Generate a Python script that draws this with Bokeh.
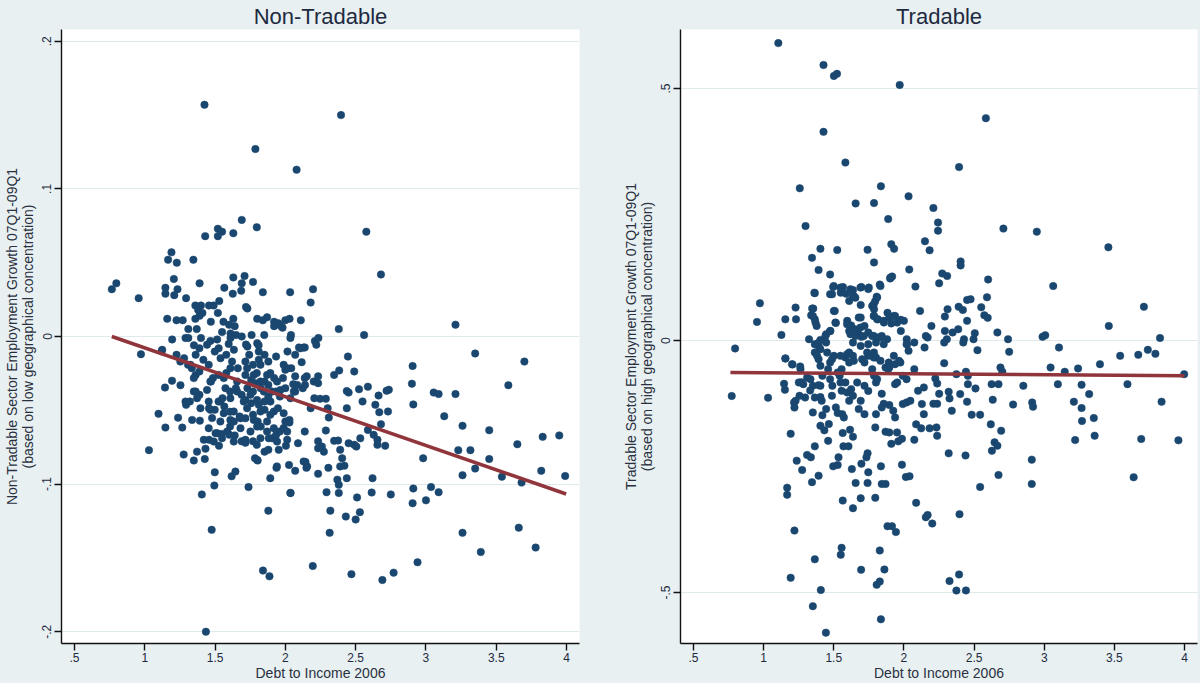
from bokeh.plotting import figure
from bokeh.layouts import row
from bokeh.models import Range1d, FixedTicker
from bokeh.embed import file_html
from bokeh.resources import INLINE

# ---------------- data ----------------
x_ticks = [0.5, 1, 1.5, 2, 2.5, 3, 3.5, 4]
x_tick_labels = [".5", "1", "1.5", "2", "2.5", "3", "3.5", "4"]

nt_y_ticks = [-0.2, -0.1, 0, 0.1, 0.2]
nt_y_tick_labels = ["-.2", "-.1", "0", ".1", ".2"]
t_y_ticks = [-0.5, 0, 0.5]
t_y_tick_labels = ["-.5", "0", ".5"]

# Non-tradable panel: (debt to income, employment growth)
nt_points = [
    (1.425, 0.157), (2.396, 0.150), (1.787, 0.127), (2.08, 0.113), (1.69, 0.079),
    (1.797, 0.074), (1.52, 0.073), (1.55, 0.071), (1.43, 0.068), (1.52, 0.068),
    (1.63, 0.070), (2.576, 0.071), (2.68, 0.042), (3.21, 0.008), (1.19, 0.057),
    (1.166, 0.052), (1.228, 0.050), (1.346, 0.052), (0.766, 0.032), (0.798, 0.036),
    (0.957, 0.026), (1.207, 0.039), (1.147, 0.033), (1.147, 0.029), (1.21, 0.028),
    (1.233, 0.032), (1.294, 0.026), (1.39, 0.036), (1.63, 0.040), (1.71, 0.041),
    (1.69, 0.036), (1.77, 0.037), (1.686, 0.031), (1.566, 0.033), (1.626, 0.029),
    (1.84, 0.030), (2.034, 0.030), (2.197, 0.032), (2.18, 0.023), (1.72, 0.020),
    (1.53, 0.024), (1.457, 0.021), (1.49, 0.021), (1.36, 0.021), (1.40, 0.021),
    (1.38, 0.018), (1.41, 0.016), (1.39, 0.014), (1.36, 0.012), (1.52, 0.016),
    (1.16, 0.012), (1.226, 0.011), (1.27, 0.011), (1.47, 0.010), (1.56, 0.010),
    (1.63, 0.012), (1.64, 0.007), (1.60, 0.008), (1.80, 0.012), (1.87, 0.013),
    (1.84, 0.011), (1.92, 0.010), (1.95, 0.009), (2.03, 0.012), (1.97, 0.007),
    (2.0, 0.011), (2.11, 0.011), (1.31, 0.005), (1.37, 0.005), (1.55, 0.003),
    (1.61, 0.002), (1.65, 0.001), (1.69, 0.000), (1.76, 0.001), (1.85, 0.001),
    (2.04, 0.001), (2.38, 0.005), (2.56, 0.001), (1.73, 0.019), (1.92, 0.007),
    (1.98, 0.006), (2.107, -0.008), (2.13, -0.0075), (2.21, -0.003), (2.235, -0.001),
    (1.195, -0.002), (1.124, -0.009), (1.29, -0.001), (1.31, -0.001), (1.467, -0.003),
    (1.515, -0.002), (1.526, -0.008), (1.72, -0.0055), (1.80, -0.0045),
    (0.973, -0.012), (1.12, -0.010), (3.35, -0.0115), (3.70, -0.017), (2.905, -0.020),
    (2.90, -0.032), (2.91, -0.046), (3.055, -0.038), (3.09, -0.039), (3.21, -0.039),
    (3.13, -0.054), (3.26, -0.0605), (3.45, -0.0635), (3.586, -0.033), (3.23, -0.077),
    (3.316, -0.077), (3.26, -0.094), (3.35, -0.0895), (3.45, -0.083), (3.54, -0.095),
    (3.65, -0.073), (3.68, -0.099), (3.83, -0.068), (3.82, -0.091), (3.948, -0.067),
    (3.99, -0.0945), (2.98, -0.0825), (2.91, -0.103), (2.905, -0.113), (3.036, -0.102),
    (3.09, -0.1055), (3.00, -0.111), (3.26, -0.133), (3.39, -0.146), (3.66, -0.1295),
    (3.78, -0.143), (2.94, -0.153), (2.77, -0.160), (2.69, -0.165), (2.47, -0.161),
    (2.195, -0.1555), (1.841, -0.1586), (1.887, -0.1625), (1.435, -0.200), (1.476, -0.131),
    (1.879, -0.118), (2.315, -0.133), (2.32, -0.118), (2.43, -0.122), (2.50, -0.124),
    (2.53, -0.119), (2.51, -0.109), (2.037, -0.106), (1.738, -0.102), (1.406, -0.107),
    (1.495, -0.101), (1.498, -0.092), (1.618, -0.0947), (1.645, -0.0915), (1.893, -0.096),
    (1.937, -0.089), (2.026, -0.087), (2.07, -0.091), (2.143, -0.085), (2.15, -0.089),
    (2.233, -0.093), (2.306, -0.089), (2.39, -0.088), (2.42, -0.0875), (2.37, -0.097),
    (2.38, -0.1005), (2.38, -0.106), (2.437, -0.096), (2.293, -0.1055), (2.62, -0.096),
    (2.614, -0.1057), (2.75, -0.107), (1.03, -0.077), (1.098, -0.0524), (1.147, -0.0617),
    (1.237, -0.055), (1.267, -0.0617), (1.144, -0.0346), (1.194, -0.030), (1.254, -0.033),
    (1.277, -0.080), (1.349, -0.084), (1.372, -0.078), (1.432, -0.076), (1.427, -0.083),
    (1.392, -0.057), (1.479, -0.0553), (1.528, -0.074), (1.457, -0.070), (1.504, -0.0655),
    (1.547, -0.066), (1.602, -0.0666), (1.64, -0.067), (1.689, -0.071), (1.716, -0.072),
    (1.77, -0.071), (1.797, -0.0734), (1.784, -0.0825), (1.803, -0.084), (1.852, -0.078),
    (1.879, -0.0768), (1.906, -0.069), (1.934, -0.0667), (1.96, -0.0644), (1.988, -0.062),
    (2.0, -0.0576), (2.029, -0.0583), (1.953, -0.0768), (2.004, -0.074), (2.09, -0.0723),
    (2.138, -0.0644), (2.233, -0.071), (2.26, -0.0746), (2.274, -0.078), (2.233, -0.0757),
    (2.288, -0.0637), (2.347, -0.0707), (2.375, -0.0705), (2.39, -0.0768), (2.404, -0.0825),
    (2.45, -0.0723), (2.49, -0.0734), (2.505, -0.0746), (2.533, -0.069), (2.587, -0.0633),
    (2.628, -0.0666), (2.655, -0.070), (2.655, -0.0734), (2.71, -0.074), (2.68, -0.0594),
    (2.73, -0.0508), (2.668, -0.0513), (2.64, -0.0463), (2.72, -0.0368), (2.736, -0.0361),
    (2.663, -0.040), (2.549, -0.044), (2.524, -0.0357), (2.587, -0.034), (2.437, -0.037),
    (2.45, -0.038), (2.437, -0.0486), (2.49, -0.0237), (2.445, -0.0136), (2.383, -0.023),
    (2.347, -0.026), (2.301, -0.0486), (2.309, -0.0549), (2.288, -0.0422), (2.247, -0.0422),
    (2.206, -0.0418), (2.18, -0.0486), (2.152, -0.027), (2.138, -0.0282), (2.233, -0.027),
    (2.233, -0.0316), (2.116, -0.0174), (2.097, -0.0074), (2.138, -0.0074), (2.22, -0.0056),
    (1.988, -0.0192), (2.0, -0.0226), (2.056, -0.0323), (2.07, -0.0373), (2.124, -0.035),
    (2.14, -0.0328), (1.983, -0.0282), (2.0, -0.035), (1.961, -0.0407), (1.947, -0.0486),
    (1.988, -0.052), (2.029, -0.0565), (1.906, -0.0373), (1.879, -0.0407), (1.852, -0.044),
    (1.811, -0.0463), (1.852, -0.0497), (1.893, -0.053), (1.77, -0.053), (1.803, -0.0576),
    (1.825, -0.061), (1.716, -0.0554), (1.675, -0.0542), (1.634, -0.0576), (1.607, -0.061),
    (1.689, -0.0395), (1.716, -0.043), (1.757, -0.0452), (1.648, -0.035), (1.607, -0.0373),
    (1.553, -0.0418), (1.525, -0.044), (1.566, -0.0475), (1.607, -0.051), (1.498, -0.0497),
    (1.457, -0.0486), (1.389, -0.0395), (1.362, -0.0373), (1.321, -0.044), (1.294, -0.0463),
    (1.471, -0.0305), (1.485, -0.0282), (1.525, -0.026), (1.58, -0.0248), (1.362, -0.026),
    (1.389, -0.0237), (1.335, -0.0215), (1.308, -0.0192), (1.226, -0.0124), (1.28, -0.0147),
    (1.253, -0.017), (1.362, -0.0124), (1.417, -0.0158), (1.389, -0.008), (1.443, -0.0056),
    (1.498, -0.0102), (1.539, -0.0147), (1.58, -0.0124), (1.621, -0.017), (1.662, -0.0215),
    (1.716, -0.017), (1.77, -0.0192), (1.811, -0.0158), (1.852, -0.0124), (1.716, -0.026),
    (1.757, -0.0294), (1.797, -0.0248), (1.852, -0.0305), (1.893, -0.0248), (1.92, -0.0282),
    (1.879, -0.017), (1.934, -0.0136), (1.811, -0.0102), (1.73, -0.0068), (1.634, -0.009),
    (1.743, -0.0124), (2.07, -0.027), (2.042, -0.0215), (2.07, -0.0124), (2.015, -0.0102),
    (1.934, -0.0373), (1.879, -0.0328), (1.825, -0.035), (1.784, -0.0316), (1.77, -0.0373),
    (1.73, -0.035), (1.94, -0.088), (2.155, -0.088), (2.13, -0.0847), (2.036, -0.106),
    (1.80, -0.0836),
    # dense core
    (1.40, -0.001), (1.61, -0.001), (2.036, -0.001), (1.35, -0.006), (1.597, -0.005),
    (1.81, -0.006), (1.325, -0.0192), (1.455, -0.0192), (1.609, -0.0215), (1.728, -0.0215),
    (1.823, -0.0192), (1.775, -0.026), (1.870, -0.026), (2.013, -0.0215), (1.349, -0.0282),
    (1.467, -0.0305), (1.562, -0.0282), (1.657, -0.0305), (1.823, -0.0305), (1.941, -0.0305),
    (2.084, -0.0328), (2.202, -0.0305), (1.349, -0.0373), (1.443, -0.0362), (1.574, -0.035),
    (1.657, -0.0373), (1.752, -0.0395), (1.847, -0.0373), (1.965, -0.0362), (2.06, -0.0373),
    (1.29, -0.0441), (1.372, -0.0418), (1.455, -0.0441), (1.538, -0.0441), (1.609, -0.0418),
    (1.704, -0.0441), (1.799, -0.043), (1.894, -0.0441), (2.036, -0.0418), (1.396, -0.0486),
    (1.467, -0.0497), (1.562, -0.052), (1.633, -0.0508), (1.728, -0.0486), (1.823, -0.0508),
    (1.918, -0.0508), (1.337, -0.0565), (1.538, -0.0576), (1.609, -0.0565), (1.681, -0.0554),
    (1.775, -0.0565), (1.87, -0.0576), (1.455, -0.0621), (1.515, -0.0655), (1.586, -0.0644),
    (1.681, -0.0621), (1.752, -0.0644), (1.799, -0.061), (1.87, -0.0644), (1.918, -0.0621),
    (2.013, -0.0644), (1.42, -0.070), (1.491, -0.0712), (1.55, -0.0689), (1.633, -0.0712),
    (1.716, -0.070), (1.823, -0.0689), (1.882, -0.0689), (1.941, -0.0712), (2.013, -0.070),
]

# Tradable panel: (debt to income, employment growth)
t_points = [
    (1.105, 0.590), (1.427, 0.5465), (1.501, 0.525), (1.523, 0.529), (1.97, 0.507),
    (2.584, 0.441), (1.427, 0.414), (1.583, 0.353), (2.393, 0.344), (1.258, 0.302),
    (1.836, 0.306), (2.033, 0.286), (1.656, 0.272), (1.787, 0.2726), (2.21, 0.263),
    (1.888, 0.241), (2.243, 0.234), (2.243, 0.218), (1.299, 0.227), (2.709, 0.222),
    (2.947, 0.216), (2.15, 0.197), (2.183, 0.179), (3.457, 0.185), (1.405, 0.182),
    (1.525, 0.1795), (1.741, 0.180), (1.91, 0.191), (1.93, 0.182), (1.345, 0.164),
    (1.787, 0.155), (2.404, 0.157), (2.404, 0.149), (1.392, 0.140), (2.038, 0.141),
    (1.474, 0.131), (2.273, 0.133), (2.308, 0.128), (1.902, 0.123), (1.916, 0.127),
    (2.60, 0.121), (2.251, 0.1135), (1.828, 0.111), (2.082, 0.107), (3.064, 0.108),
    (1.496, 0.106), (1.474, 0.092), (1.566, 0.106), (1.55, 0.095), (1.588, 0.093),
    (1.637, 0.100), (1.637, 0.088), (1.697, 0.106), (1.746, 0.102), (1.365, 0.094),
    (1.806, 0.087), (1.795, 0.078), (1.774, 0.0686), (1.787, 0.062), (1.692, 0.0706),
    (1.654, 0.085), (1.61, 0.0785), (0.974, 0.074), (1.228, 0.0653), (1.354, 0.0634),
    (1.351, 0.0488), (1.365, 0.042), (1.378, 0.029), (1.501, 0.0587), (1.155, 0.042),
    (1.231, 0.042), (0.953, 0.037), (1.127, 0.0112), (2.115, 0.0587), (2.311, 0.062),
    (2.292, 0.0475), (2.39, 0.067), (2.42, 0.0607), (2.45, 0.0805), (2.475, 0.082),
    (2.551, 0.066), (2.573, 0.050), (2.597, 0.045), (2.592, 0.0858), (2.45, 0.039),
    (2.196, 0.029), (2.292, 0.019), (2.347, 0.016), (2.505, 0.0145), (2.666, 0.016),
    (2.742, 0.0026), (2.988, 0.0073), (3.007, 0.0106), (3.71, 0.067), (3.46, 0.029),
    (3.825, 0.005), (1.515, 0.035), (1.474, 0.019), (1.446, 0.0125), (1.596, 0.039),
    (1.624, 0.030), (1.61, 0.019), (1.651, 0.0224), (1.678, 0.0125), (1.697, 0.0073),
    (1.692, 0.0455), (1.719, 0.029), (1.746, 0.016), (1.774, 0.009), (1.787, 0.0488),
    (1.815, 0.042), (1.856, 0.039), (1.896, 0.0455), (1.937, 0.0488), (1.978, 0.041),
    (1.91, 0.034), (1.883, 0.055), (1.978, 0.019), (1.842, 0.009), (1.815, 0.006),
    (2.02, 0.0026), (1.324, 0.0026), (1.405, 0.0013), (2.156, 0.009), (2.169, 0.006),
    (2.306, 0.0026), (2.428, 0.0026), (2.496, 0.0026), (2.387, 0.0224),
    (0.797, -0.0158), (0.773, -0.110), (1.032, -0.1135), (1.155, -0.0356), (1.146, -0.0858),
    (1.152, -0.0977), (1.206, -0.0475), (1.217, -0.1228), (1.22, -0.133), (1.193, -0.185),
    (1.168, -0.292), (1.168, -0.306), (1.22, -0.377), (1.193, -0.4706), (1.236, -0.2383),
    (1.275, -0.257), (1.31, -0.227), (1.337, -0.2317), (1.345, -0.281), (1.365, -0.2099),
    (1.392, -0.268), (1.365, -0.434), (1.408, -0.495), (1.351, -0.527), (1.444, -0.5795),
    (1.261, -0.0515), (1.269, -0.083), (1.296, -0.113), (1.228, -0.1195), (1.256, -0.1096),
    (1.332, -0.099), (1.351, -0.0898), (1.365, -0.113), (1.392, -0.0885), (1.414, -0.1195),
    (1.351, -0.1426), (1.405, -0.1122), (1.446, -0.136), (1.419, -0.148), (1.433, -0.1782),
    (1.405, -0.169), (1.465, -0.1657), (1.46, -0.199), (1.515, -0.1327), (1.528, -0.144),
    (1.561, -0.146), (1.572, -0.1525), (1.487, -0.1096), (1.49, -0.0898), (1.556, -0.0997),
    (1.596, -0.103), (1.496, -0.2495), (1.528, -0.2469), (1.534, -0.2317), (1.564, -0.1835),
    (1.616, -0.177), (1.637, -0.1908), (1.569, -0.2099), (1.605, -0.2099), (1.629, -0.255),
    (1.564, -0.3175), (1.637, -0.3326), (1.656, -0.2825), (1.741, -0.2825), (1.697, -0.2442),
    (1.692, -0.3128), (1.741, -0.2238), (1.733, -0.2317), (1.746, -0.2614), (1.796, -0.312),
    (1.556, -0.4112), (1.55, -0.4251), (1.695, -0.4548), (1.828, -0.4165), (1.861, -0.4541),
    (1.806, -0.4845), (1.828, -0.478), (1.836, -0.553), (1.836, -0.2495), (1.842, -0.2845),
    (1.869, -0.2845), (1.869, -0.1808), (1.896, -0.1822), (1.91, -0.205), (1.951, -0.1822),
    (1.96, -0.200), (1.986, -0.195), (1.796, -0.1723), (1.801, -0.146), (1.842, -0.1327),
    (1.883, -0.3683), (1.915, -0.3683), (1.943, -0.380), (1.986, -0.2462), (2.014, -0.2706),
    (2.04, -0.2693), (2.074, -0.197), (2.087, -0.1663), (2.123, -0.1742), (2.183, -0.1742),
    (2.087, -0.322), (2.156, -0.3505), (2.169, -0.346), (2.202, -0.363), (2.232, -0.1723),
    (2.237, -0.1888), (2.319, -0.2238), (2.439, -0.228), (2.396, -0.3445), (2.325, -0.4772),
    (2.393, -0.464), (2.374, -0.496), (2.442, -0.4957), (2.483, -0.1472), (2.543, -0.1472),
    (2.543, -0.2904), (2.619, -0.1663), (2.693, -0.1789), (2.646, -0.202), (2.666, -0.2086),
    (2.627, -0.2185), (2.674, -0.2667), (2.911, -0.2363), (2.911, -0.2845), (2.778, -0.127),
    (2.914, -0.1228), (2.92, -0.1313), (2.851, -0.0898), (2.633, -0.1175), (2.625, -0.0865),
    (2.674, -0.0865), (2.688, -0.0535), (2.701, -0.062), (2.75, -0.0224), (3.045, -0.0535),
    (3.097, -0.0865), (3.146, -0.062), (3.105, -0.0139), (3.211, -0.1214), (3.266, -0.134),
    (3.241, -0.0554), (3.266, -0.0878), (3.32, -0.1063), (3.269, -0.1597), (3.353, -0.1538),
    (3.359, -0.1888), (3.22, -0.1974), (3.397, -0.0469), (3.541, -0.0304), (3.593, -0.0865),
    (3.67, -0.0284), (3.738, -0.0185), (3.792, -0.0264), (3.836, -0.1214), (3.637, -0.2713),
    (3.691, -0.1954), (3.956, -0.198), (3.997, -0.0667), (2.524, -0.0191), (2.374, -0.0667),
    (2.442, -0.062), (2.456, -0.070), (2.456, -0.0865), (2.51, -0.095), (2.319, -0.1017),
    (2.325, -0.1148), (2.341, -0.1393), (2.401, -0.1063), (2.45, -0.1214), (2.224, -0.0753),
    (2.237, -0.0852), (2.251, -0.1056), (2.287, -0.0449), (2.147, -0.0139), (2.21, -0.1254),
    (2.237, -0.1254), (2.287, -0.004), (2.423, -0.004), (2.074, -0.0568), (2.101, -0.0997),
    (2.128, -0.126), (2.142, -0.146), (2.142, -0.093), (1.992, -0.070), (2.019, -0.0766),
    (1.937, -0.0865), (1.992, -0.126), (2.019, -0.1228), (2.046, -0.1195), (2.033, -0.0205),
    (2.019, -0.0073), (2.074, -0.004), (1.937, -0.0469), (1.965, -0.0403), (1.896, -0.0535),
    (1.842, -0.1056), (1.856, -0.1254), (1.896, -0.128), (1.924, -0.1393), (1.937, -0.1525),
    (1.787, -0.0238), (1.801, -0.0337), (1.746, -0.0304), (1.719, -0.0436), (1.774, -0.0568),
    (1.869, -0.0535), (1.888, -0.0568), (1.787, -0.070), (1.801, -0.0832), (1.719, -0.0898),
    (1.746, -0.100), (1.692, -0.1195), (1.678, -0.136), (1.719, -0.146), (1.61, -0.0238),
    (1.583, -0.0337), (1.61, -0.0436), (1.637, -0.0304), (1.556, -0.0568), (1.542, -0.070),
    (1.583, -0.0832), (1.624, -0.0964), (1.637, -0.1096), (1.61, -0.1195), (1.501, -0.0304),
    (1.474, -0.0436), (1.46, -0.0568), (1.365, -0.0238), (1.392, -0.037), (1.405, -0.0502),
    (1.31, -0.0733), (1.283, -0.0865), (1.446, -0.004), (1.392, -0.0106), (1.365, -0.0073),
    (1.637, -0.004), (1.692, -0.0106), (1.746, -0.0073), (1.801, -0.004), (1.856, -0.0073),
    (1.474, -0.0766), (1.528, -0.0634), (1.419, -0.070),
    # dense core
    (1.362, 0.095), (1.346, 0.0634), (1.339, 0.050), (1.37, 0.0356), (1.50, 0.108),
    (1.488, 0.0917), (1.548, 0.105), (1.619, 0.1017), (1.643, 0.0884), (1.69, 0.105),
    (1.75, 0.105), (1.809, 0.0855), (1.785, 0.0719), (1.833, 0.108), (1.904, 0.125),
    (1.507, 0.0587), (1.512, 0.0356), (1.595, 0.0323), (1.678, 0.0455), (1.69, 0.0257),
    (1.619, 0.0125), (1.655, 0.0092), (1.714, 0.0092), (1.785, 0.0488), (1.809, 0.0422),
    (1.857, 0.0356), (1.928, 0.0488), (1.952, 0.0356), (2.0, 0.039), (1.785, 0.0092),
    (1.833, 0.006), (1.88, 0.0026), (1.476, 0.019), (1.441, 0.0092), (1.393, -0.004),
    (1.405, -0.0172), (1.381, -0.0304), (1.453, -0.0238), (1.488, -0.037), (1.548, -0.0304),
    (1.595, -0.0271), (1.643, -0.0403), (1.702, -0.037), (1.738, -0.0238), (1.785, -0.0337),
    (1.833, -0.0403), (1.892, -0.0436), (1.928, -0.0304), (1.975, -0.0436), (2.023, -0.0073),
    (1.156, -0.0356), (1.203, -0.0469), (1.263, -0.0568), (1.251, -0.0832), (1.334, -0.0766),
    (1.405, -0.0898), (1.548, -0.0832), (1.667, -0.0832), (1.809, -0.0766), (1.952, -0.0832),
]

# Fitted lines (end points)
nt_fit_x = [0.766, 3.997]
nt_fit_y = [0.000, -0.1067]
t_fit_x = [0.764, 4.0]
t_fit_y = [-0.0634, -0.070]

nt_x = [p[0] for p in nt_points]
nt_y = [p[1] for p in nt_points]
t_x = [p[0] for p in t_points]
t_y = [p[1] for p in t_points]

# ---------------- styling ----------------
BG = "#E8F0F2"
NAVY = "#1a476f"
MAROON = "#90353b"
FONT = "Liberation Sans"
TXT = "#1e2a40"


def make_panel(title, ylabel, xs, ys, fx, fy, yticks, ylabels, yr, left, right):
    p = figure(width=600, height=683, output_backend="svg", toolbar_location=None,
               x_range=Range1d(0.408, 4.092), y_range=Range1d(*yr),
               min_border_left=left, min_border_right=right,
               min_border_top=0, min_border_bottom=0,
               styles={"background-color": BG})
    p.background_fill_color = "white"
    p.border_fill_color = BG
    p.outline_line_color = None

    p.title.text = title
    p.title.align = "center"
    p.title.text_font = FONT
    p.title.text_font_size = "22px"
    p.title.text_font_style = "normal"
    p.title.text_color = TXT
    p.title.standoff = 2
    p.title.offset = 0

    p.xaxis.ticker = FixedTicker(ticks=x_ticks)
    p.xaxis.major_label_overrides = {t: l for t, l in zip(x_ticks, x_tick_labels)}
    p.yaxis.ticker = FixedTicker(ticks=yticks)
    p.yaxis.major_label_overrides = {t: l for t, l in zip(yticks, ylabels)}
    p.yaxis.major_label_orientation = "vertical"

    for ax in (p.xaxis[0], p.yaxis[0]):
        ax.axis_line_color = "#111111"
        ax.axis_line_width = 1.4
        ax.major_tick_line_color = "#111111"
        ax.major_tick_line_width = 1.4
        ax.major_tick_out = 7
        ax.major_tick_in = 0
        ax.minor_tick_line_color = None
        ax.major_label_text_font = FONT
        ax.major_label_text_font_size = "12px"
        ax.major_label_text_color = TXT
        ax.major_label_standoff = 3
        ax.axis_label_text_font = FONT
        ax.axis_label_text_font_style = "normal"
        ax.axis_label_text_color = "#2a3040"

    p.xaxis.major_label_standoff = 2
    p.xaxis.axis_label = "Debt to Income 2006"
    p.xaxis.axis_label_text_font_size = "14px"
    p.xaxis.axis_label_standoff = 0
    p.yaxis.axis_label = ylabel
    p.yaxis.axis_label_text_font_size = "14px"
    p.yaxis.axis_label_text_line_height = 1.0
    p.yaxis.axis_label_standoff = 4

    p.xgrid.grid_line_color = None
    p.ygrid.grid_line_color = "#E0EAED"
    p.ygrid.grid_line_width = 1.2

    p.scatter(xs, ys, size=7.5, fill_color=NAVY, line_color=NAVY, line_width=0.5)
    p.line(fx, fy, line_color=MAROON, line_width=3.5)
    return p


p1 = make_panel("Non-Tradable",
                "Non-Tradable Sector Employment Growth 07Q1-09Q1\n(based on low geographical concentration)",
                nt_x, nt_y, nt_fit_x, nt_fit_y, nt_y_ticks, nt_y_tick_labels,
                (-0.208, 0.208), 61, 21)
p2 = make_panel("Tradable",
                "Tradable Sector Employment Growth 07Q1-09Q1\n(based on high geographical concentration)",
                t_x, t_y, t_fit_x, t_fit_y, t_y_ticks, t_y_tick_labels,
                (-0.601, 0.617), 80, 3)

layout = row(p1, p2, styles={"background-color": BG})
open("out.html", "w").write(file_html(layout, INLINE))
